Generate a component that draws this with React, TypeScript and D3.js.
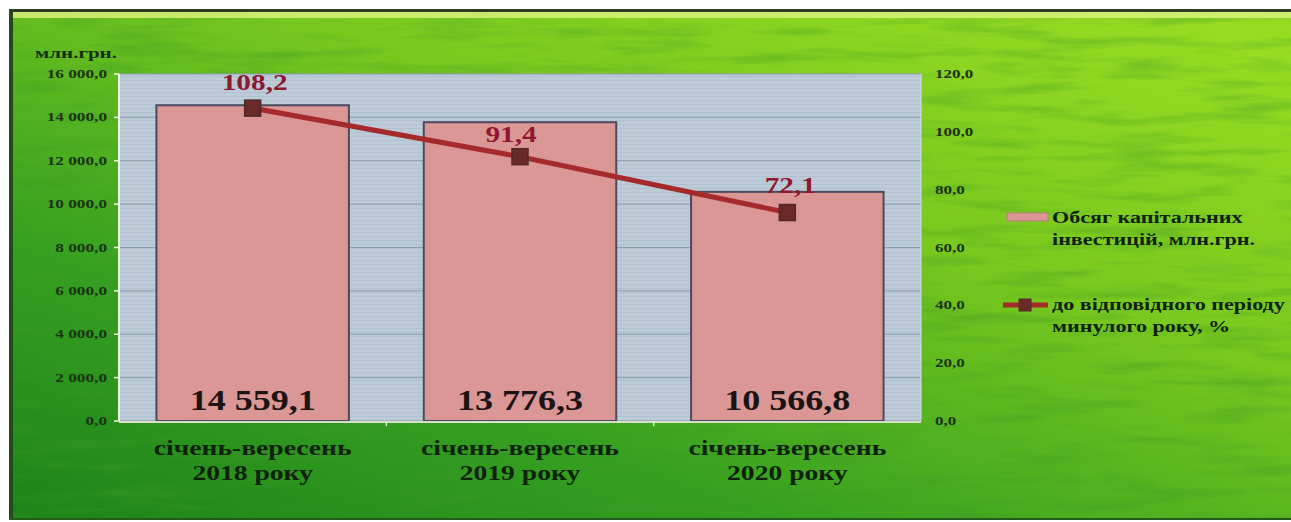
import * as d3 from "d3";
import type { ReactNode } from "react";

const categories = ["січень-вересень\n2018 року", "січень-вересень\n2019 року", "січень-вересень\n2020 року"];
const investments = [14559.1, 13776.3, 10566.8];
const investmentLabels = ["14 559,1", "13 776,3", "10 566,8"];
const percents = [108.2, 91.4, 72.1];
const percentLabels = ["108,2", "91,4", "72,1"];
const leftTicks = [0, 2000, 4000, 6000, 8000, 10000, 12000, 14000, 16000];
const rightTicks = [0, 20, 40, 60, 80, 100, 120];
const legendItems = [
  ["Обсяг капітальних", "інвестицій,  млн.грн."],
  ["до відповідного періоду", "минулого року, %"],
];

const fmtLeft = (v: number) => {
  const [int, dec] = v.toFixed(1).split(".");
  return `${int.replace(/\B(?=(\d{3})+(?!\d))/g, " ")},${dec}`;
};
const fmtRight = (v: number) => v.toFixed(1).replace(".", ",");

// the source picture is stretched sideways, so text is widened with a scale
function SText(props: {
  x: number;
  y: number;
  sx: number;
  size: number;
  anchor?: "start" | "middle" | "end";
  fill: string;
  lineGap?: number;
  children: ReactNode;
}) {
  const { x, y, sx, size, anchor = "start", fill, lineGap = 0, children } = props;
  const lines = typeof children === "string" ? children.split("\n") : [children];
  return (
    <text
      transform={`translate(${x},${y}) scale(${sx},1)`}
      textAnchor={anchor}
      fontSize={size}
      fontWeight="bold"
      fill={fill}
    >
      {lines.map((l, j) => (
        <tspan key={j} x={0} y={j * lineGap}>
          {l}
        </tspan>
      ))}
    </text>
  );
}

export default function App() {
  const width = 1291;
  const height = 522;
  const plot = { left: 119, right: 921, top: 74, bottom: 421 };
  const font = "'Liberation Serif', 'Times New Roman', serif";
  const ink = "#0e2209";

  const x = d3
    .scaleBand()
    .domain(categories)
    .range([plot.left, plot.right])
    .paddingInner(0)
    .paddingOuter(0);
  const barW = x.bandwidth() * 0.72;
  const yL = d3.scaleLinear().domain([0, 16000]).range([plot.bottom, plot.top]);
  const yR = d3.scaleLinear().domain([0, 120]).range([plot.bottom, plot.top]);
  const cx = (c: string) => (x(c) ?? 0) + x.bandwidth() / 2;

  const line = d3
    .line<number>()
    .x((_, i) => cx(categories[i]))
    .y((d) => yR(d));

  const labelDy = [-18, -15, -20];
  const labelDx = [2, -9, 3];

  return (
    <svg
      width={width}
      height={height}
      style={{ position: "absolute", left: 0, top: 0 }}
      fontFamily={font}
    >
      <defs>
        <linearGradient id="bg" x1="0" y1="1" x2="0.9" y2="0">
          <stop offset="0" stopColor="#1b8319" />
          <stop offset="0.3" stopColor="#35a020" />
          <stop offset="0.65" stopColor="#78c81e" />
          <stop offset="1" stopColor="#98dc22" />
        </linearGradient>
        <filter id="grass" x="0" y="0" width="100%" height="100%">
          <feTurbulence type="fractalNoise" baseFrequency="0.01 0.08" numOctaves="3" seed="7" />
          <feColorMatrix
            type="matrix"
            values="0 0 0 0 0.05  0 0 0 0 0.32  0 0 0 0 0.02  0 0 0 -2.4 1.3"
          />
        </filter>
        <pattern id="stripes" width="4" height="4" patternUnits="userSpaceOnUse">
          <rect width="4" height="4" fill="#bdcbd8" />
          <rect width="4" height="1" fill="#b2c1cf" />
        </pattern>
      </defs>

      <rect width={width} height={height} fill="#ffffff" />
      <rect x={9} y={9} width={width - 9} height={height - 11} fill="url(#bg)" />
      <rect x={9} y={9} width={width - 9} height={height - 11} filter="url(#grass)" opacity={0.4} />
      <rect x={9} y={9} width={width - 9} height={3} fill="#2e3a2a" />
      <rect x={12} y={12} width={width - 12} height={6} fill="#d8f27a" opacity={0.85} />
      <rect x={9} y={9} width={4} height={height - 11} fill="#244a1c" />
      <rect x={9} y={height - 4} width={width - 9} height={2} fill="#245a1c" />

      {/* plot area */}
      <rect
        x={plot.left}
        y={plot.top}
        width={plot.right - plot.left}
        height={plot.bottom - plot.top}
        fill="url(#stripes)"
      />
      {leftTicks.map((t) => (
        <line
          key={t}
          x1={plot.left}
          x2={plot.right}
          y1={yL(t)}
          y2={yL(t)}
          stroke="#8c9db1"
          strokeWidth={1}
        />
      ))}

      {/* bars */}
      {categories.map((c, i) => (
        <rect
          key={c}
          x={cx(c) - barW / 2}
          y={yL(investments[i])}
          width={barW}
          height={plot.bottom - yL(investments[i])}
          fill="#db9696"
          stroke="#4a4a5c"
          strokeWidth={2}
        />
      ))}

      {/* axes */}
      <line x1={plot.left} x2={plot.left} y1={plot.top} y2={plot.bottom} stroke="#eef4e0" strokeWidth={2} />
      <line x1={plot.left} x2={plot.right} y1={plot.bottom + 1} y2={plot.bottom + 1} stroke="#d8e0c8" strokeWidth={2} />
      <line x1={plot.right} x2={plot.right} y1={plot.top} y2={plot.bottom} stroke="#d4dde6" strokeWidth={1} />
      {leftTicks.map((t) => (
        <g key={t}>
          <line x1={plot.left - 5} x2={plot.left} y1={yL(t)} y2={yL(t)} stroke="#eef4e0" strokeWidth={1.5} />
          <SText x={plot.left - 12} y={yL(t) + 4} sx={1.38} size={12.5} anchor="end" fill="#1c3412">
            {fmtLeft(t)}
          </SText>
        </g>
      ))}
      {categories.slice(1).map((c) => (
        <line
          key={c}
          x1={x(c) ?? 0}
          x2={x(c) ?? 0}
          y1={plot.bottom}
          y2={plot.bottom + 5}
          stroke="#eef4e0"
          strokeWidth={1.5}
        />
      ))}
      {rightTicks.map((t) => (
        <SText key={t} x={935} y={yR(t) + 4} sx={1.36} size={12.5} fill="#1c3412">
          {fmtRight(t)}
        </SText>
      ))}
      <SText x={35} y={58} sx={1.4} size={15} fill="#14300c">
        млн.грн.
      </SText>

      {/* category labels */}
      {categories.map((c) => (
        <SText key={c} x={cx(c)} y={455} sx={1.38} size={20} anchor="middle" fill={ink} lineGap={25}>
          {c}
        </SText>
      ))}

      {/* bar values */}
      {categories.map((c, i) => (
        <SText key={c} x={cx(c)} y={410} sx={1.2} size={30} anchor="middle" fill="#1a1414">
          {investmentLabels[i]}
        </SText>
      ))}

      {/* percent line */}
      <path d={line(percents) ?? ""} fill="none" stroke="#a52a2c" strokeWidth={5} />
      {percents.map((p, i) => (
        <g key={i}>
          <rect
            x={cx(categories[i]) - 8}
            y={yR(p) - 8}
            width={16}
            height={16}
            fill="#6a2a28"
            stroke="#4e2a2a"
            strokeWidth={1.5}
          />
          <SText
            x={cx(categories[i]) + labelDx[i]}
            y={yR(p) + labelDy[i]}
            sx={1.22}
            size={24}
            anchor="middle"
            fill="#8e1830"
          >
            {percentLabels[i]}
          </SText>
        </g>
      ))}

      {/* legend */}
      <rect x={1007} y={213} width={41} height={8} fill="#db9696" stroke="#b47c7c" strokeWidth={1} />
      <line x1={1003} x2={1048} y1={305} y2={305} stroke="#a52a2c" strokeWidth={5} />
      <rect x={1019} y={299} width={12} height={12} fill="#6a2a28" stroke="#4e2a2a" />
      {legendItems.map((lines, i) => (
        <SText key={i} x={1052} y={223 + i * 87} sx={1.3} size={17} fill={ink} lineGap={22}>
          {lines.join("\n")}
        </SText>
      ))}
    </svg>
  );
}
